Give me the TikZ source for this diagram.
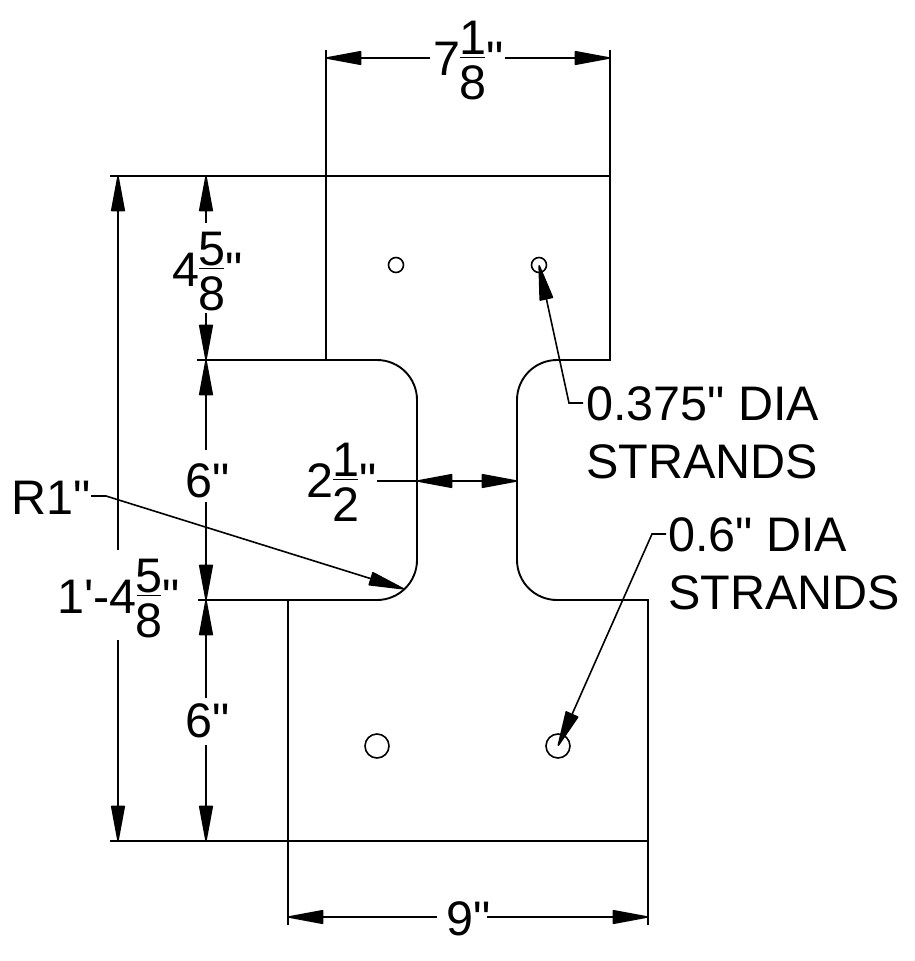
\documentclass[tikz,border=0pt]{standalone}
\usepackage{fontspec}
\newfontfamily\dimfont{Liberation Sans}
\usetikzlibrary{arrows.meta}
\newcommand{\fr}[4]{#1\makebox[.51em]{\makebox[0pt]{\raisebox{.43em}{#2}}\makebox[0pt]{\raisebox{-.5em}{#3}}\makebox[0pt]{\rule[.35em]{.5em}{1.3pt}}}\hspace{.03em}#4}
\begin{document}
\begin{tikzpicture}[x=1pt,y=-1pt,
 ln/.style={line width=1.9pt,black},
 dm/.style={line width=1.6pt,black},
 arr/.style={dm,-{Triangle[length=39pt,width=14pt,round=false]},shorten >=0pt},
 hole/.style={circle,draw,line width=1.6pt,inner sep=0pt},
 lab/.style={font=\dimfont\fontsize{48.5}{52}\selectfont,inner sep=0pt,anchor=base west}]
\useasboundingbox (0,0) rectangle (915,961);
\fill[white] (0,0) rectangle (915,961);
% outline
\draw[ln] (326,176) -- (610,176) -- (610,360) -- (557,360) arc[start angle=270,end angle=180,radius=40] -- (517,560) arc[start angle=180,end angle=90,radius=40] -- (648,600) -- (648,841) -- (288,841) -- (288,600) -- (377,600) arc[start angle=90,end angle=0,radius=40] -- (417,400) arc[start angle=0,end angle=-90,radius=40] -- (326,360) -- cycle;
% holes
\node[hole,minimum size=15pt] (h1) at (396,265) {};
\node[hole,minimum size=15pt] (h2) at (539,265) {};
\node[hole,minimum size=24pt] (h3) at (377,746) {};
\node[hole,minimum size=24pt] (h4) at (558,746) {};
% labels
\node[lab] (ltop) at (433,75) {\fr{7}{1}{8}{"}};
\node[lab] (lupper) at (172,286) {\fr{4}{5}{8}{"}};
\node[lab] (lmid) at (185,497) {6"};
\node[lab] (llow) at (185,737) {6"};
\node[lab] (lall) at (57,613) {1'-\fr{4}{5}{8}{"}};
\node[lab] (lgap) at (306,497) {\fr{2}{1}{2}{"}};
\node[lab] (lbot) at (446,935) {9"};
\node[lab] (lr) at (11,514) {R1"};
\node[lab] (ls1) at (586,420) {0.375" DIA};
\node[lab] (ls1b) at (586,478) {STRANDS};
\node[lab] (ls2) at (668,551) {0.6" DIA};
\node[lab] (ls2b) at (668,609) {STRANDS};
% extension lines
\draw[dm] (326,176) -- (326,50);
\draw[dm] (610,176) -- (610,50);
\draw[dm] (110,176) -- (326,176);
\draw[dm] (110,841) -- (288,841);
\draw[dm] (197,360) -- (326,360);
\draw[dm] (198,600) -- (288,600);
\draw[dm] (288,841) -- (288,925);
\draw[dm] (648,841) -- (648,925);
% dimension lines
\draw[arr] (430,58) -- (326,58);
\draw[arr] (505,58) -- (610,58);
\draw[arr] (437,917) -- (288,917);
\draw[arr] (487,917) -- (648,917);
\draw[arr] (118,550) -- (118,176);
\draw[arr] (118,640) -- (118,841);
\draw[arr] (206,223) -- (206,176);
\draw[arr] (206,313) -- (206,360);
\draw[arr] (206,450) -- (206,360);
\draw[arr] (206,502) -- (206,600);
\draw[arr] (206,698) -- (206,600);
\draw[arr] (206,745) -- (206,841);
\draw[dm] (377,481) -- (417,481);
\draw[arr] (467,481) -- (417,481);
\draw[arr] (467,481) -- (517,481);
% leaders
\coordinate (k1) at (106,496);
\coordinate (e1) at (404,589);
\coordinate (k2) at (569,403);
\coordinate (k3) at (652,534);
\draw[arr] (91,496) -- (k1) -- (e1);
\draw[arr] (583,403) -- (k2) -- (h2.center);
\draw[arr] (666,534) -- (k3) -- (h4.center);
\end{tikzpicture}
\end{document}
